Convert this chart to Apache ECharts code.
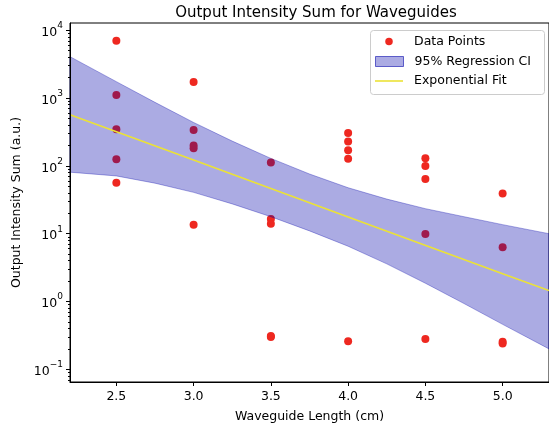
<!DOCTYPE html>
<html>
<head>
<meta charset="utf-8">
<script src="https://cdn.jsdelivr.net/npm/echarts@6/dist/echarts.min.js"></script>
<style>
  html, body { margin: 0; padding: 0; background: #fff; }
  #chart { width: 549px; height: 430px; }
</style>
</head>
<body>
<div id="chart"></div>
<script>
// measured points (length in cm, intensity in a.u.)
const lengths = [2.5, 2.5, 2.5, 2.5, 2.5, 3, 3, 3, 3, 3, 3.5, 3.5, 3.5, 3.5, 3.5,
  4, 4, 4, 4, 4, 4.5, 4.5, 4.5, 4.5, 4.5, 5, 5, 5, 5];
const intensities = [7020, 1110, 347, 125, 56.5, 1730, 339, 199, 182, 13.5, 112, 16.5, 14, 0.31, 0.30,
  306, 228, 170, 127, 0.26, 130, 100, 64, 9.9, 0.28, 39, 6.3, 0.255, 0.24];

// exponential fit
const fitX = [2.2, 3.0, 4.0, 5.0, 5.3];
const fitY = [570, 122, 17.7, 2.57, 1.45];

// 95% confidence band
const bandX = [2.2, 2.5, 2.75, 3.0, 3.25, 3.5, 3.75, 4.0, 4.25, 4.5, 4.75, 5.0, 5.3];
const bandLow = [80.7, 71.1, 55.6, 40.7, 27.5, 17.8, 11.0, 6.53, 3.59, 1.86, 0.933, 0.46, 0.2];
const bandHigh = [4080, 1746, 865, 437, 232, 129, 75.9, 47.6, 32.4, 23.4, 17.8, 13.6, 10.0];

const xTicks = [2.5, 3.0, 3.5, 4.0, 4.5, 5.0];
const yTicks = [0.1, 1, 10, 100, 1000, 10000];
const yMinorTicks = [0.07, 0.08, 0.09,
  0.2, 0.3, 0.4, 0.5, 0.6, 0.7, 0.8, 0.9,
  2, 3, 4, 5, 6, 7, 8, 9,
  20, 30, 40, 50, 60, 70, 80, 90,
  200, 300, 400, 500, 600, 700, 800, 900,
  2000, 3000, 4000, 5000, 6000, 7000, 8000, 9000];

const font = 'DejaVu Sans';
const bandColor = 'rgba(0, 0, 170, 0.33)';
const pointColor = '#ee2820';
const fitColor = '#ebe236';

const chart = echarts.init(document.getElementById('chart'), null, { renderer: 'canvas' });

const powLabel = (v) => {
  const e = Math.round(Math.log10(v));
  return '{b|10}{e|' + (e < 0 ? '\u2212' + (-e) : e) + '}';
};

const yBase = {
  type: 'log',
  logBase: 10,
  min: 0.065,
  max: 12800,
  splitLine: { show: false },
  z: 10
};

const legendText = { fontFamily: font, fontSize: 12.5, color: '#000', padding: [0, 0, 0, 6] };
const legendBase = {
  orient: 'vertical',
  left: 375,
  itemWidth: 28,
  padding: 0,
  selectedMode: false,
  textStyle: legendText,
  z: 12
};

const option = {
  animation: false,
  textStyle: { fontFamily: font },
  title: {
    text: 'Output Intensity Sum for Waveguides',
    left: 311,
    top: 1,
    textAlign: 'center',
    textStyle: { fontFamily: font, fontSize: 15, fontWeight: 'normal', color: '#000' }
  },
  graphic: [{
    type: 'rect',
    z: 11,
    shape: { x: 370.5, y: 30.5, width: 174, height: 64, r: 3 },
    style: { fill: '#fff', stroke: '#cccccc', lineWidth: 1 }
  }],
  legend: [
    Object.assign({}, legendBase, {
      top: 35,
      left: 385.25,
      itemHeight: 7.5,
      data: [{ name: 'Data Points', icon: 'circle', itemStyle: { color: pointColor } }]
    }),
    Object.assign({}, legendBase, {
      top: 55,
      itemHeight: 10,
      data: [{ name: '95% Regression CI', icon: 'rect', itemStyle: { color: bandColor, borderColor: 'rgba(60,60,190,0.8)', borderWidth: 1 } }]
    }),
    Object.assign({}, legendBase, {
      top: 74.5,
      itemHeight: 1.6,
      data: [{ name: 'Exponential Fit', icon: 'rect', itemStyle: { color: fitColor } }]
    })
  ],
  grid: {
    left: 70,
    top: 23,
    right: -2,
    bottom: 48,
    show: true,
    borderColor: '#000',
    borderWidth: 1,
    backgroundColor: 'transparent'
  },
  xAxis: {
    type: 'value',
    min: 2.2,
    max: 5.3,
    splitLine: { show: false },
    axisLine: { onZero: false, lineStyle: { color: '#000', width: 1 } },
    axisTick: { customValues: xTicks, length: 4, lineStyle: { color: '#000' } },
    axisLabel: {
      customValues: xTicks,
      formatter: (v) => v.toFixed(1),
      fontFamily: font, fontSize: 12.5, color: '#000', margin: 8
    },
    name: 'Waveguide Length (cm)',
    nameLocation: 'middle',
    nameGap: 28,
    nameTextStyle: { fontFamily: font, fontSize: 12.5, color: '#000' },
    z: 10
  },
  yAxis: [
    Object.assign({}, yBase, {
      axisLine: { onZero: false, lineStyle: { color: '#000', width: 1 } },
      axisTick: { customValues: yTicks, length: 4, lineStyle: { color: '#000' } },
      axisLabel: {
        customValues: yTicks,
        formatter: powLabel,
        margin: 7,
        rich: {
          b: { fontFamily: font, fontSize: 12.5, color: '#000', lineHeight: 18, verticalAlign: 'bottom' },
          e: { fontFamily: font, fontSize: 9, color: '#000', lineHeight: 18, verticalAlign: 'top' }
        }
      },
      name: 'Output Intensity Sum (a.u.)',
      nameLocation: 'middle',
      nameGap: 46,
      nameTextStyle: { fontFamily: font, fontSize: 12.5, color: '#000' }
    }),
    Object.assign({}, yBase, {
      position: 'left',
      axisLine: { show: false },
      axisLabel: { show: false },
      axisTick: { customValues: yMinorTicks, length: 2, lineStyle: { color: '#000' } }
    })
  ],
  series: [
    {
      name: 'Data Points',
      type: 'scatter',
      symbolSize: 8,
      itemStyle: { color: pointColor, opacity: 1 },
      data: lengths.map((x, i) => [x, intensities[i]]),
      z: 2
    },
    {
      name: '95% Regression CI',
      type: 'custom',
      itemStyle: { color: bandColor },
      data: [0],
      renderItem: (params, api) => {
        const top = bandX.map((x, i) => api.coord([x, bandHigh[i]]));
        const bottom = bandX.map((x, i) => api.coord([x, bandLow[i]])).reverse();
        return {
          type: 'polygon',
          shape: { points: top.concat(bottom) },
          style: { fill: bandColor, stroke: bandColor, lineWidth: 1 }
        };
      },
      z: 3
    },
    {
      name: 'Exponential Fit',
      type: 'line',
      showSymbol: false,
      symbol: 'none',
      lineStyle: { color: fitColor, width: 1.6 },
      itemStyle: { color: fitColor },
      data: fitX.map((x, i) => [x, fitY[i]]),
      z: 4
    }
  ]
};

chart.setOption(option);
</script>
</body>
</html>
